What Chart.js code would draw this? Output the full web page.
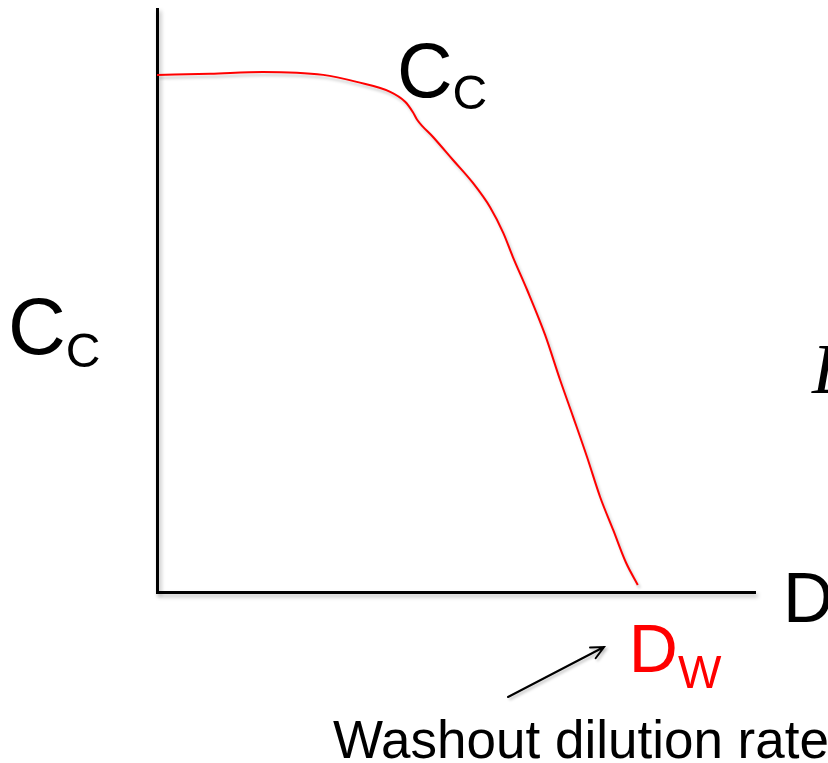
<!DOCTYPE html>
<html>
<head>
<meta charset="utf-8">
<script src="https://cdn.jsdelivr.net/npm/chart.js@4"></script>
<style>
  body { margin: 0; background: #fff; }
  #wrap { width: 828px; height: 763px; position: relative; }
</style>
</head>
<body>
<div id="wrap"><canvas id="washout"></canvas></div>
<script>
// dilution rate D (arbitrary units, 0..10) and cell concentration Cc (0..10)
const dilution = [0, 0.89, 1.77, 2.78, 3.34, 3.90, 4.15, 4.28, 4.35, 4.62, 4.95, 5.28, 5.57, 5.79, 5.95, 6.19, 6.49, 6.74, 6.96, 7.19, 7.41, 7.63, 7.84, 8.04];
const cellConc = [8.87, 8.89, 8.92, 8.87, 8.75, 8.58, 8.41, 8.23, 8.10, 7.80, 7.41, 7.02, 6.60, 6.16, 5.75, 5.18, 4.41, 3.64, 3.00, 2.32, 1.63, 1.06, 0.51, 0.12];
const axisRange = [0, 10];
const washoutD = dilution[dilution.length - 1];

const ctx = document.getElementById('washout');

// sombra suave tipo powerpoint para ejes y curva
const shadowPlugin = {
    id: 'shadow',
    beforeDraw(chart) {
        const c = chart.ctx;
        c.save();
        c.shadowColor = 'rgba(0,0,0,0.28)';
        c.shadowBlur = 4;
        c.shadowOffsetX = 2;
        c.shadowOffsetY = 3;
    },
    beforeDatasetsDraw(chart) {
        chart.ctx.restore();
    },
    beforeDatasetDraw(chart) {
        const c = chart.ctx;
        c.save();
        c.shadowColor = 'rgba(0,0,0,0.22)';
        c.shadowBlur = 3;
        c.shadowOffsetX = 2;
        c.shadowOffsetY = 3;
    },
    afterDatasetDraw(chart) {
        chart.ctx.restore();
    }
};

// etiquetas con subíndice y flecha
const labelsPlugin = {
    id: 'labels',
    afterDraw(chart) {
        const c = chart.ctx;
        const x = chart.scales.x;
        c.save();
        c.textAlign = 'left';
        c.textBaseline = 'alphabetic';

        function sub(main, small, px, py, big, little, color, dy) {
            c.fillStyle = color;
            c.font = big + 'px "Liberation Sans", Arial, sans-serif';
            c.fillText(main, px, py);
            const w = c.measureText(main).width;
            c.font = little + 'px "Liberation Sans", Arial, sans-serif';
            c.fillText(small, px + w, py + dy);
        }

        // curve label and y-axis label
        sub('C', 'C', 397, 97, 77, 48, '#000', 12);
        sub('C', 'C', 8, 354, 80, 48, '#000', 13);

        // x-axis label
        c.fillStyle = '#000';
        c.font = '70px "Liberation Sans", Arial, sans-serif';
        c.fillText('D', 783, 622);

        // washout dilution rate under the end of the curve
        const dx = x.getPixelForValue(washoutD);
        sub('D', 'W', dx - 9, 672, 68, 46, '#ff0000', 16);

        // cut italic letter at right edge
        c.fillStyle = '#000';
        c.font = 'italic 72px "Liberation Serif", "Times New Roman", serif';
        c.fillText('D', 812, 393);

        // arrow
        c.strokeStyle = '#000';
        c.lineWidth = 2;
        c.lineCap = 'round';
        c.shadowColor = 'rgba(0,0,0,0.25)';
        c.shadowBlur = 3;
        c.shadowOffsetX = 2;
        c.shadowOffsetY = 2;
        const x0 = 508, y0 = 697, x1 = 604, y1 = 647;
        const ang = Math.atan2(y1 - y0, x1 - x0);
        c.beginPath();
        c.moveTo(x0, y0);
        c.lineTo(x1, y1);
        c.moveTo(x1 - 14 * Math.cos(ang - 0.45), y1 - 14 * Math.sin(ang - 0.45));
        c.lineTo(x1, y1);
        c.lineTo(x1 - 14 * Math.cos(ang + 0.45), y1 - 14 * Math.sin(ang + 0.45));
        c.stroke();
        c.shadowColor = 'transparent';

        c.font = '53px "Liberation Sans", Arial, sans-serif';
        c.fillText('Washout dilution rate', 333, 758);
        c.restore();
    }
};

new Chart(ctx, {
    type: 'line',
    data: {
        datasets: [{
            label: 'Cc',
            data: dilution.map((d, i) => ({ x: d, y: cellConc[i] })),
            borderColor: '#ff0000',
            borderWidth: 2,
            pointRadius: 0,
            fill: false,
            cubicInterpolationMode: 'monotone'
        }]
    },
    options: {
        responsive: true,
        maintainAspectRatio: false,
        animation: false,
        layout: {
            padding: { left: 157, right: 73, top: 9, bottom: 171 }
        },
        scales: {
            x: {
                type: 'linear',
                min: axisRange[0],
                max: axisRange[1],
                ticks: { display: false },
                grid: { display: false, drawTicks: false },
                border: { display: true, color: '#000', width: 3 }
            },
            y: {
                type: 'linear',
                min: axisRange[0],
                max: axisRange[1],
                ticks: { display: false },
                grid: { display: false, drawTicks: false },
                border: { display: true, color: '#000', width: 3 }
            }
        },
        plugins: {
            legend: { display: false },
            tooltip: { enabled: false }
        }
    },
    plugins: [shadowPlugin, labelsPlugin]
});
</script>
</body>
</html>
